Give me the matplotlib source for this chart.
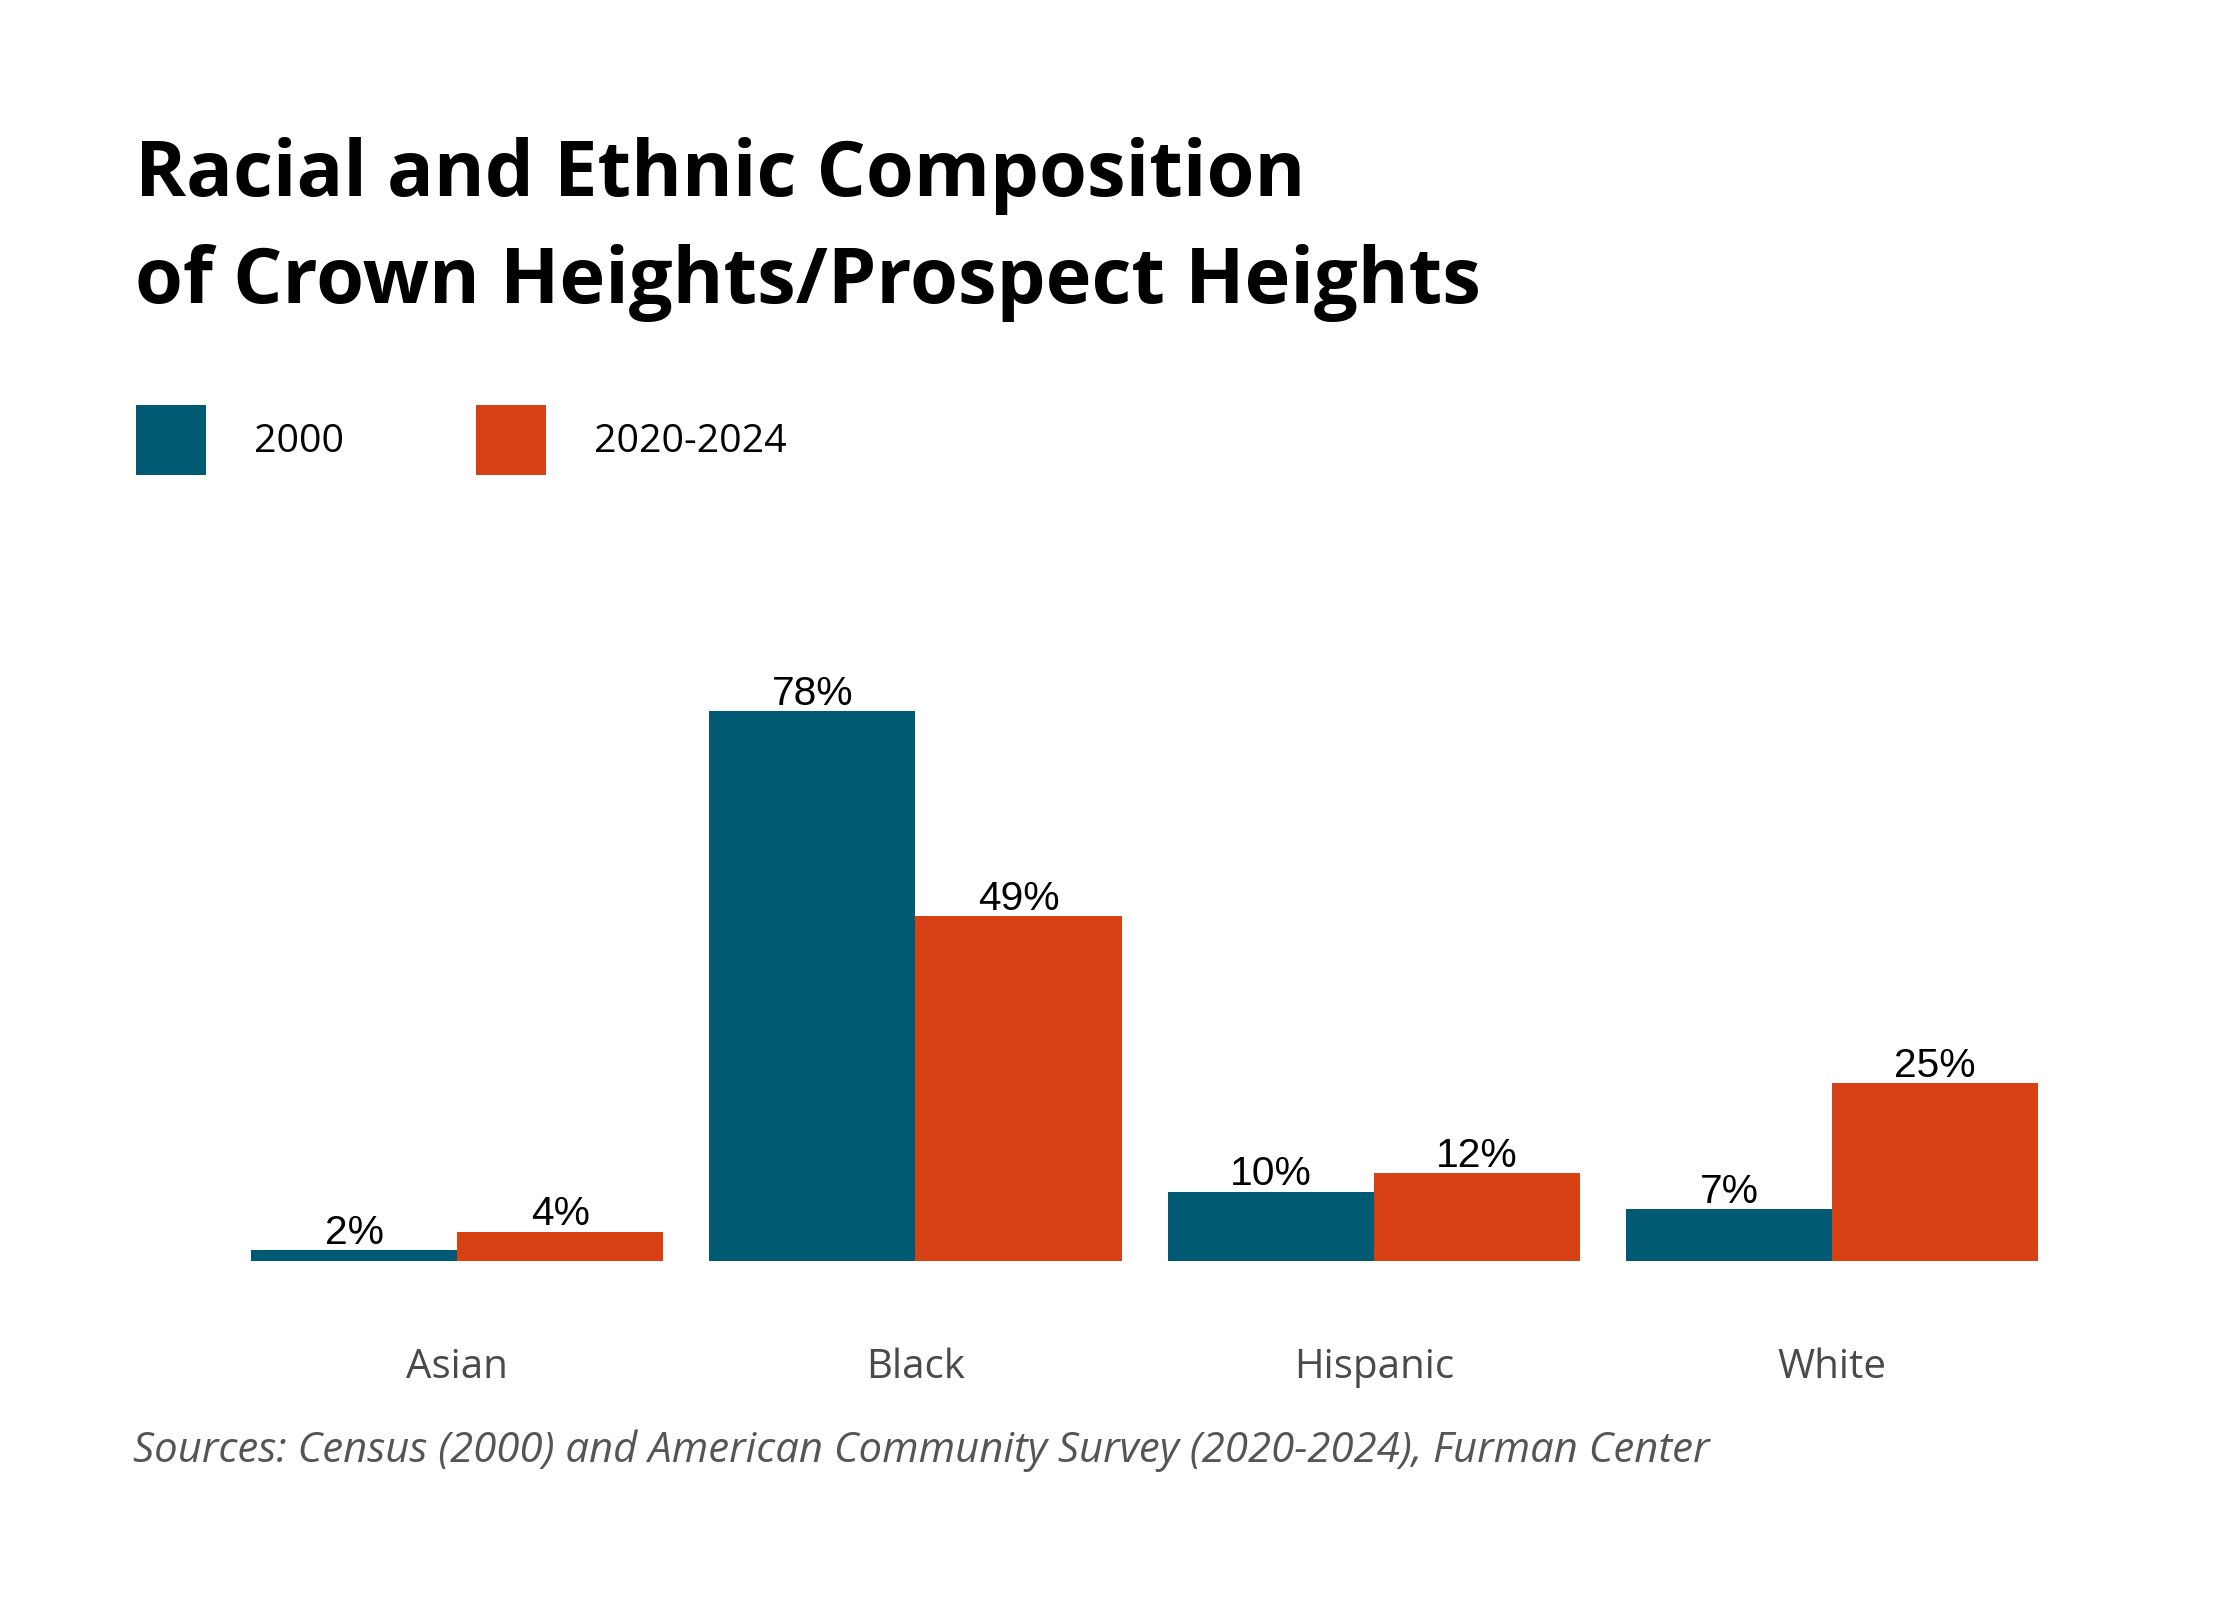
import numpy as np
import matplotlib.pyplot as plt

# data (bar heights, labels are the rounded shares)
categories = ["Asian", "Black", "Hispanic", "White"]
share_2000 = [1.5, 78.0, 9.8, 7.3]
share_2020 = [4.1, 48.9, 12.4, 25.2]
series_labels = ["2000", "2020-2024"]

TEAL = "#005a73"
ORANGE = "#d84114"
W, H = 2240.0, 1600.0  # output pixels
TEXT_FONT = "Open Sans"

fig = plt.figure(figsize=(11.2, 8), dpi=200)
fig.patch.set_facecolor("white")

# axes placed so that the groups sit where they sit in the original
ax = fig.add_axes([228 / W, 339.3 / H, 1833.2 / W, 563.8 / H])

x = np.arange(len(categories))
bw = 0.45
b1 = ax.bar(x - bw / 2, share_2000, bw, color=TEAL, label=series_labels[0])
b2 = ax.bar(x + bw / 2, share_2020, bw, color=ORANGE, label=series_labels[1])

for bars, vals in [(b1, share_2000), (b2, share_2020)]:
    for rect, v in zip(bars, vals):
        ax.annotate(f"{round(v)}%",
                    (rect.get_x() + rect.get_width() / 2, rect.get_height()),
                    xytext=(0, 2.3), textcoords="offset points",
                    ha="center", va="baseline", fontsize=14.7,
                    family="Liberation Sans", color="black")

# category names under the groups
for i, name in enumerate(categories):
    ax.annotate(name, (x[i], 0), xycoords=("data", "axes fraction"),
                xytext=(0, -42.3), textcoords="offset points",
                ha="center", va="baseline", fontsize=14.5,
                family=TEXT_FONT, color="#4a4a4a")

ax.set_xlim(-0.5, len(categories) - 0.5)
ax.set_ylim(0, 80)
ax.set_xticks([])
ax.set_yticks([])
for s in ax.spines.values():
    s.set_visible(False)

# title
fig.text(135 / W, 1 - 196 / H, "Racial and Ethnic Composition",
         family=TEXT_FONT, weight="bold", fontsize=27.9, va="baseline", ha="left")
fig.text(135 / W, 1 - 303.3 / H, "of Crown Heights/Prospect Heights",
         family=TEXT_FONT, weight="bold", fontsize=27.9, va="baseline", ha="left")

# legend, one box per series
leg_kw = dict(loc="upper left", frameon=False,
              prop={"family": TEXT_FONT, "size": 14.2},
              handlelength=1.775, handleheight=2.36, handletextpad=1.22,
              borderpad=0, borderaxespad=0)
fig.legend(handles=[b1], labels=[series_labels[0]],
           bbox_to_anchor=(136 / W, 1 - 405 / H), **leg_kw)
fig.legend(handles=[b2], labels=[series_labels[1]],
           bbox_to_anchor=(476 / W, 1 - 405 / H), **leg_kw)

# source
fig.text(133 / W, 1 - 1461.7 / H,
         "Sources: Census (2000) and American Community Survey (2020-2024), Furman Center",
         family=TEXT_FONT, style="italic", fontsize=15.1, color="#555555",
         va="baseline", ha="left")

fig.savefig("out.png", dpi=200)
